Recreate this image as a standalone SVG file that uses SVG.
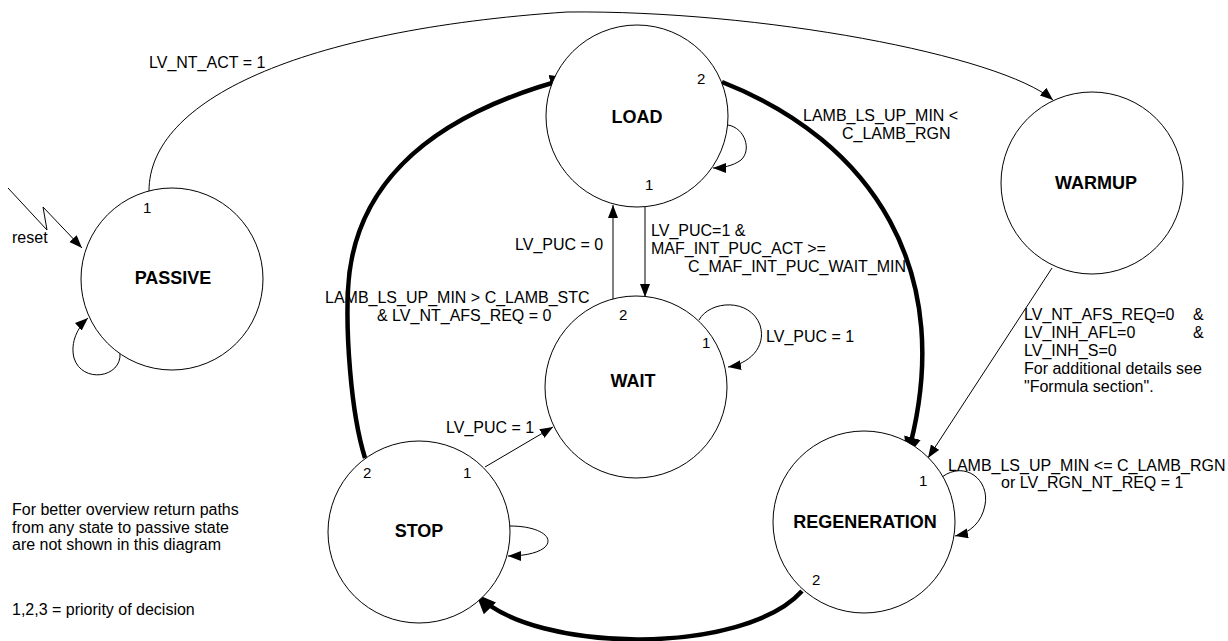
<svg xmlns="http://www.w3.org/2000/svg" width="1228" height="641" viewBox="0 0 1228 641">
  <style>
    .state { fill: #fff; stroke: #000; stroke-width: 1; }
    .title { font-family: "Liberation Sans", Arial, sans-serif; font-size: 18px; font-weight: bold; text-anchor: middle; fill: #000; }
    .lbl { font-family: "Liberation Sans", Arial, sans-serif; font-size: 16px; fill: #000; }
    .prio { font-family: "Liberation Sans", Arial, sans-serif; font-size: 15px; fill: #000; }
    .thin { fill: none; stroke: #000; stroke-width: 1; marker-end: url(#arr); }
    .thick { fill: none; stroke: #000; stroke-width: 4.5; marker-end: url(#arrBig); }
  </style>
  <defs>
    <marker id="arr" markerUnits="userSpaceOnUse" markerWidth="14" markerHeight="12" refX="13" refY="5" orient="auto">
      <path d="M0,0 L13,5 L0,10 Z" fill="#000"/>
    </marker>
    <marker id="arrBig" markerUnits="userSpaceOnUse" markerWidth="22" markerHeight="18" refX="20" refY="8.5" orient="auto">
      <path d="M0,0 L20,8.5 L0,17 Z" fill="#000"/>
    </marker>
  </defs>
  <rect width="1228" height="641" fill="#fff"/>

  <!-- transitions -->
  <g id="connectors">
    <!-- PASSIVE -> WARMUP -->
    <path class="thin" d="M149,191 C149,100 300,30 567,12 C760,10 1000,55 1053,100"/>
    <!-- reset -->
    <path class="thin" d="M8,188 L47,230 L43,207 L82,248"/>
    <!-- PASSIVE self loop -->
    <path class="thin" d="M120,353 C122,378 82,384 74,358 C70,342 78,327 88,318"/>
    <!-- LOAD self loop -->
    <path class="thin" d="M728,125 C745,128 752,150 741,160 C733,166 722,168 713,168"/>
    <!-- WAIT self loop -->
    <path class="thin" d="M699,320 C710,300 750,298 760,325 C767,348 748,364 728,367"/>
    <!-- STOP self loop -->
    <path class="thin" d="M510,526 C540,526 556,538 544,548 C536,554 521,556 508,556"/>
    <!-- REGENERATION self loop -->
    <path class="thin" d="M942,477 C965,460 990,480 985,505 C982,522 970,533 955,536"/>
    <!-- LOAD -> WAIT -->
    <path class="thin" d="M645,207 L645,297"/>
    <!-- WAIT -> LOAD -->
    <path class="thin" d="M613,300 L613,205"/>
    <!-- STOP -> WAIT -->
    <path class="thin" d="M485,467 L553,427"/>
    <!-- WARMUP -> REGENERATION -->
    <path class="thin" d="M1052,268 L928,458"/>
    <!-- LOAD -> REGENERATION -->
    <path class="thick" d="M722,82 C870,140 960,270 907,457"/>
    <!-- REGENERATION -> STOP -->
    <path class="thick" d="M802,591 C745,655 535,655 476,594"/>
    <!-- STOP -> LOAD -->
    <path class="thick" d="M365,458 C350,410 346,330 348,290 C352,200 410,120 570,78"/>
  </g>

  <g id="passive">
    <circle class="state" cx="172" cy="279" r="91"/>
    <text class="title" x="173" y="284">PASSIVE</text>
    <text class="prio" x="143" y="213">1</text>
  </g>
  <g id="load">
    <circle class="state" cx="637" cy="116" r="91"/>
    <text class="title" x="637" y="123">LOAD</text>
    <text class="prio" x="697" y="84">2</text>
    <text class="prio" x="645" y="190">1</text>
  </g>
  <g id="warmup">
    <circle class="state" cx="1092" cy="183" r="91"/>
    <text class="title" x="1096" y="189">WARMUP</text>
  </g>
  <g id="wait">
    <circle class="state" cx="636" cy="387" r="91"/>
    <text class="title" x="633" y="387">WAIT</text>
    <text class="prio" x="619" y="320">2</text>
    <text class="prio" x="702" y="348">1</text>
  </g>
  <g id="stop">
    <circle class="state" cx="419" cy="532" r="91"/>
    <text class="title" x="419" y="537">STOP</text>
    <text class="prio" x="363" y="478">2</text>
    <text class="prio" x="463" y="478">1</text>
  </g>
  <g id="regeneration">
    <circle class="state" cx="864" cy="522" r="91"/>
    <text class="title" x="865" y="528">REGENERATION</text>
    <text class="prio" x="919" y="486">1</text>
    <text class="prio" x="812" y="585">2</text>
  </g>

  <g id="labels">
    <text class="lbl" x="149" y="68">LV_NT_ACT = 1</text>
    <text class="lbl" x="12" y="243">reset</text>
    <text class="lbl" x="803" y="121">LAMB_LS_UP_MIN &lt;</text>
    <text class="lbl" x="842" y="139">C_LAMB_RGN</text>
    <text class="lbl" x="515" y="250">LV_PUC = 0</text>
    <text class="lbl" x="651" y="236">LV_PUC=1 &amp;</text>
    <text class="lbl" x="651" y="254">MAF_INT_PUC_ACT &gt;=</text>
    <text class="lbl" x="688" y="272">C_MAF_INT_PUC_WAIT_MIN</text>
    <text class="lbl" x="325" y="303">LAMB_LS_UP_MIN &gt; C_LAMB_STC</text>
    <text class="lbl" x="377" y="321">&amp; LV_NT_AFS_REQ = 0</text>
    <text class="lbl" x="766" y="342">LV_PUC = 1</text>
    <text class="lbl" x="446" y="433">LV_PUC = 1</text>
    <text class="lbl" x="1024" y="320">LV_NT_AFS_REQ=0</text>
    <text class="lbl" x="1193" y="320">&amp;</text>
    <text class="lbl" x="1024" y="338">LV_INH_AFL=0</text>
    <text class="lbl" x="1193" y="338">&amp;</text>
    <text class="lbl" x="1024" y="356">LV_INH_S=0</text>
    <text class="lbl" x="1024" y="374">For additional details see</text>
    <text class="lbl" x="1024" y="392">"Formula section".</text>
    <text class="lbl" x="948" y="471">LAMB_LS_UP_MIN &lt;= C_LAMB_RGN</text>
    <text class="lbl" x="1001" y="488">or LV_RGN_NT_REQ = 1</text>
    <text class="lbl" x="12" y="515">For better overview return paths</text>
    <text class="lbl" x="12" y="532.5">from any state to passive state</text>
    <text class="lbl" x="12" y="550">are not shown in this diagram</text>
    <text class="lbl" x="12" y="615">1,2,3 = priority of decision</text>
  </g>
</svg>
